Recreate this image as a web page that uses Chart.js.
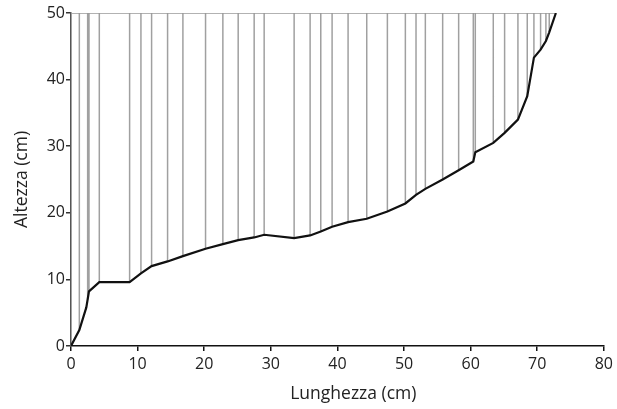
<!DOCTYPE html>
<html>
<head>
<meta charset="utf-8">
<script src="https://cdn.jsdelivr.net/npm/chart.js@4.4.0/dist/chart.umd.min.js"></script>
<style>
  html, body { margin: 0; padding: 0; background: #fff; }
  #wrap { width: 617px; height: 409px; position: relative; }
</style>
</head>
<body>
<div id="wrap"><canvas id="chart"></canvas></div>
<script>
// profilo (lunghezza in cm, altezza in cm)
const lunghezza = [0, 1.25, 2.3, 2.7, 4.25, 8.8, 10.5, 12.1, 14.5, 16.8, 20.2, 22.8, 25.1, 27.5, 29.0,
  33.5, 35.9, 37.5, 39.2, 41.6, 44.4, 47.5, 50.2, 51.8, 53.2, 55.8, 58.2, 60.4, 60.7, 63.4,
  65.1, 67.1, 68.5, 69.5, 70.5, 71.3, 71.8, 72.8];
const altezza = [0, 2.4, 5.8, 8.2, 9.6, 9.6, 10.9, 12.0, 12.7, 13.5, 14.6, 15.3, 15.9, 16.3, 16.7,
  16.2, 16.6, 17.2, 17.9, 18.6, 19.1, 20.2, 21.4, 22.7, 23.6, 25.0, 26.4, 27.7, 29.1, 30.5,
  32.0, 34.0, 37.5, 43.3, 44.5, 45.8, 47.1, 50];
// linee verticali (x) fino al livello 50
const verticali = [0, 1.25, 2.5, 2.7, 4.25, 8.8, 10.5, 12.1, 14.5, 16.8, 20.2, 22.8, 25.1, 27.5, 29.0,
  33.5, 35.9, 37.5, 39.2, 41.6, 44.4, 47.5, 50.2, 51.8, 53.2, 55.8, 58.2, 60.4, 60.7, 63.4,
  65.1, 67.1, 68.5, 69.5, 70.5, 71.3, 71.8];
const livello = 50;
const xTicks = [0, 10, 20, 30, 40, 50, 60, 70, 80];
const yTicks = [0, 10, 20, 30, 40, 50];

const profilo = lunghezza.map((x, i) => ({ x: x, y: altezza[i] }));

function altezzaA(x) {
  for (let i = 1; i < lunghezza.length; i++) {
    if (x <= lunghezza[i]) {
      const t = (x - lunghezza[i - 1]) / (lunghezza[i] - lunghezza[i - 1]);
      return altezza[i - 1] + t * (altezza[i] - altezza[i - 1]);
    }
  }
  return altezza[altezza.length - 1];
}

const righe = [];
verticali.forEach(x => {
  righe.push({ x: x, y: altezzaA(x) });
  righe.push({ x: x, y: livello });
  righe.push({ x: x, y: null });
});

const family = "'Open Sans', 'Noto Sans', sans-serif";
const tickFont = { family: family, size: 16 };
const titleFont = { family: family, size: 17.5 };

new Chart(document.getElementById('chart'), {
  type: 'scatter',
  data: {
    datasets: [
      {
        data: righe,
        showLine: true,
        spanGaps: false,
        borderColor: '#a0a0a0',
        borderWidth: 1.5,
        pointRadius: 0,
        order: 3
      },
      {
        data: [{ x: 0, y: livello }, { x: lunghezza[lunghezza.length - 1], y: livello }],
        showLine: true,
        borderColor: '#999',
        borderWidth: 1.5,
        pointRadius: 0,
        order: 2
      },
      {
        data: profilo,
        showLine: true,
        borderColor: '#111',
        borderWidth: 2.2,
        pointRadius: 0,
        tension: 0,
        order: 1
      }
    ]
  },
  options: {
    responsive: true,
    maintainAspectRatio: false,
    animation: false,
    events: [],
    layout: { padding: { left: 0, right: 13, top: 13, bottom: 0 } },
    plugins: { legend: { display: false }, tooltip: { enabled: false } },
    scales: {
      x: {
        type: 'linear',
        min: 0,
        max: 80,
        afterBuildTicks: s => { s.ticks = xTicks.map(v => ({ value: v })); },
        afterFit: s => { s.height = 63; },
        border: { display: true, color: '#111', width: 1.5 },
        grid: { drawOnChartArea: false, drawTicks: true, tickLength: 5, color: '#111', lineWidth: 1.5 },
        ticks: { color: '#222', font: tickFont, padding: 4, maxRotation: 0 },
        title: { display: true, text: '       Lunghezza (cm)', color: '#222', font: titleFont, padding: { top: 4, bottom: 4 } }
      },
      y: {
        type: 'linear',
        min: 0,
        max: 50,
        afterBuildTicks: s => { s.ticks = yTicks.map(v => ({ value: v })); },
        afterFit: s => { s.width = 71; },
        border: { display: true, color: '#555', width: 1.5 },
        grid: { drawOnChartArea: false, drawTicks: true, tickLength: 5, color: '#333', lineWidth: 1.5 },
        ticks: { color: '#222', font: tickFont, padding: 1 },
        title: { display: true, text: 'Altezza (cm)', color: '#222', font: titleFont, padding: { top: 12, bottom: 0 } }
      }
    }
  }
});
</script>
</body>
</html>
